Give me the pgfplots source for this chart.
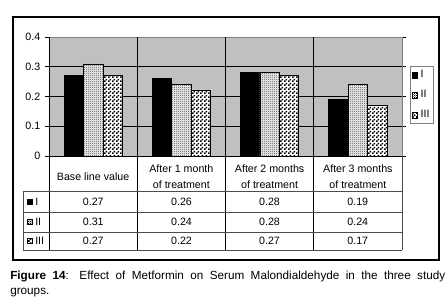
\documentclass[border=0pt]{standalone}
\usepackage{fontspec}
\setmainfont{Liberation Sans}
\usepackage{pgfplots}
\pgfplotsset{compat=1.18}
\usetikzlibrary{patterns.meta}
\definecolor{silver}{RGB}{192,192,192}
\tikzdeclarepattern{
  name=fineII, type=uncolored,
  bottom left={(0pt,0pt)}, top right={(1.5pt,1.5pt)},
  tile size={(1.5pt,1.5pt)},
  code={\fill (0pt,0pt) rectangle (0.75pt,0.75pt); \fill (0.75pt,0.75pt) rectangle (1.5pt,1.5pt);}
}
\tikzdeclarepattern{
  name=checkIII, type=uncolored,
  bottom left={(0pt,0pt)}, top right={(3pt,3pt)},
  tile size={(3pt,3pt)},
  code={\fill (0pt,0pt) rectangle (1.5pt,1.5pt); \fill (1.5pt,1.5pt) rectangle (3pt,3pt);}
}
\tikzset{
  stI/.style={draw=black, fill=black},
  stII/.style={draw=black, fill=white, postaction={pattern=fineII, pattern color=black}},
  stIII/.style={draw=black, fill=white, postaction={pattern=checkIII, pattern color=black}},
}
\begin{document}
\begin{tikzpicture}[font=\fontsize{8}{9.5}\selectfont]
\begin{scope}[x=0.75pt,y=-0.75pt]
\fill[white] (0,0) rectangle (448,306);
\draw[black, line width=1.1pt] (13,17) rectangle (439,260);
\end{scope}
\begin{axis}[
  at={(36.75pt,-117pt)}, anchor=south west,
  scale only axis, width=264.75pt, height=89.25pt,
  xmin=-0.5, xmax=3.5, ymin=0, ymax=0.4,
  ybar=0pt, bar width=0.22,
  xtick={0,1,2,3},
  xticklabels={Base line value, {After 1 month\\of treatment}, {After 2 months\\of treatment}, {After 3 months\\of treatment}},
  xticklabel style={align=center, anchor=center, yshift=-12.75pt, font=\fontsize{8}{12}\selectfont},
  major x tick style={draw=none},
  ytick={0,0.1,0.2,0.3,0.4},
  yticklabels={0,0.1,0.2,0.3,0.4},
  /pgf/number format/assume math mode=true,
  ymajorgrids, grid style={black, line width=0.6pt},
  axis background/.style={fill=silver},
  axis line style={draw=gray, line width=0.5pt},
  tick align=outside, major tick length=3pt,
  tick style={black, line width=0.6pt},
  clip=false,
  legend style={at={(1.0227,0.756)}, anchor=north west, draw=gray, fill=white,
    inner sep=1pt, row sep=4pt, font=\fontsize{8}{9}\selectfont,
    /tikz/every even column/.append style={column sep=0pt}},
  legend cell align=left,
  legend image code/.code={\draw[#1] (0pt,-2.2pt) rectangle (4.4pt,2.2pt);},
]
\addplot[stI, bar shift=-0.22] coordinates {(0,0.27) (1,0.26) (2,0.28) (3,0.19)};
\addplot[stII, bar shift=0] coordinates {(0,0.31) (1,0.24) (2,0.28) (3,0.24)};
\addplot[stIII, bar shift=0.22] coordinates {(0,0.27) (1,0.22) (2,0.27) (3,0.17)};
\legend{I,II,III}
\end{axis}
\begin{scope}[x=0.75pt,y=-0.75pt]
% table grid
\draw[black, line width=0.6pt] (49,37) -- (49,250);
\foreach \xx in {137.5,225.5,313.5} \draw[black, line width=0.6pt] (\xx,37) -- (\xx,250);
\draw[black, line width=0.6pt] (49,156) -- (402,156);
\draw[gray!60!black, line width=0.6pt] (402,156) -- (402,250);
\draw[gray!60!black, line width=0.6pt] (23,191) -- (23,250);
\foreach \yy in {191,212,232,250} \draw[gray!60!black, line width=0.6pt] (23,\yy) -- (402,\yy);
% row labels
\draw[stI] (27,199) rectangle (32,204);
\node[anchor=west, inner sep=0] at (35,201.5) {I};
\draw[stII] (27,219.5) rectangle (32,224.5);
\node[anchor=west, inner sep=0] at (35,222) {II};
\draw[stIII] (27,238.5) rectangle (32,243.5);
\node[anchor=west, inner sep=0] at (35,241) {III};
% values
\foreach \cx/\a/\b/\c in {93.25/0.27/0.31/0.27, 181.5/0.26/0.24/0.22, 269.5/0.28/0.28/0.27, 357.75/0.19/0.24/0.17}{
  \node at (\cx,201.5) {\a};
  \node at (\cx,222) {\b};
  \node at (\cx,241) {\c};
}
% caption
\node[anchor=north west, inner sep=0, text width=326.25pt, align=justify,
  font=\fontsize{8.8}{11.25}\selectfont] at (10,270.5)
  {\textbf{Figure 14}: Effect of Metformin on Serum Malondialdehyde in the three study\linebreak groups.};
\end{scope}
\end{tikzpicture}
\end{document}
